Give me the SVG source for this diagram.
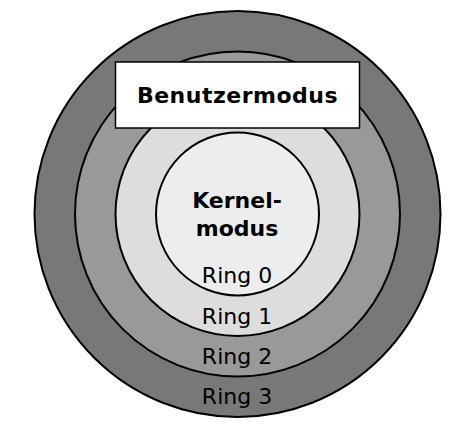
<svg xmlns="http://www.w3.org/2000/svg" width="470" height="434" viewBox="0 0 470 434">
<style>
.ring{stroke:#000;stroke-width:2}
.lbl{font-family:"DejaVu Sans",sans-serif;font-size:22px;fill:#000;text-anchor:middle}
.b{font-weight:bold}
</style>
<rect width="470" height="434" fill="#fff"/>
<g id="ring3"><circle class="ring" cx="237.5" cy="214" r="203" fill="#787878"/></g>
<g id="ring2"><circle class="ring" cx="237.5" cy="214" r="162.5" fill="#999999"/></g>
<g id="ring1"><circle class="ring" cx="237.5" cy="214" r="122" fill="#dddddd"/></g>
<g id="ring0"><circle class="ring" cx="237.5" cy="214" r="81.5" fill="#eceeed"/>
<text class="lbl b" x="237" y="208">Kernel-</text>
<text class="lbl b" x="237" y="236">modus</text>
</g>
<g id="labels">
<text class="lbl" x="237" y="283">Ring 0</text>
<text class="lbl" x="237" y="323.5">Ring 1</text>
<text class="lbl" x="237" y="364">Ring 2</text>
<text class="lbl" x="237" y="404">Ring 3</text>
</g>
<g id="benutzermodus">
<rect x="115.5" y="62" width="244" height="66" fill="#fff" stroke="#000" stroke-width="1.5"/>
<text class="lbl b" x="237.5" y="102.5" letter-spacing="0.5">Benutzermodus</text>
</g>
</svg>
